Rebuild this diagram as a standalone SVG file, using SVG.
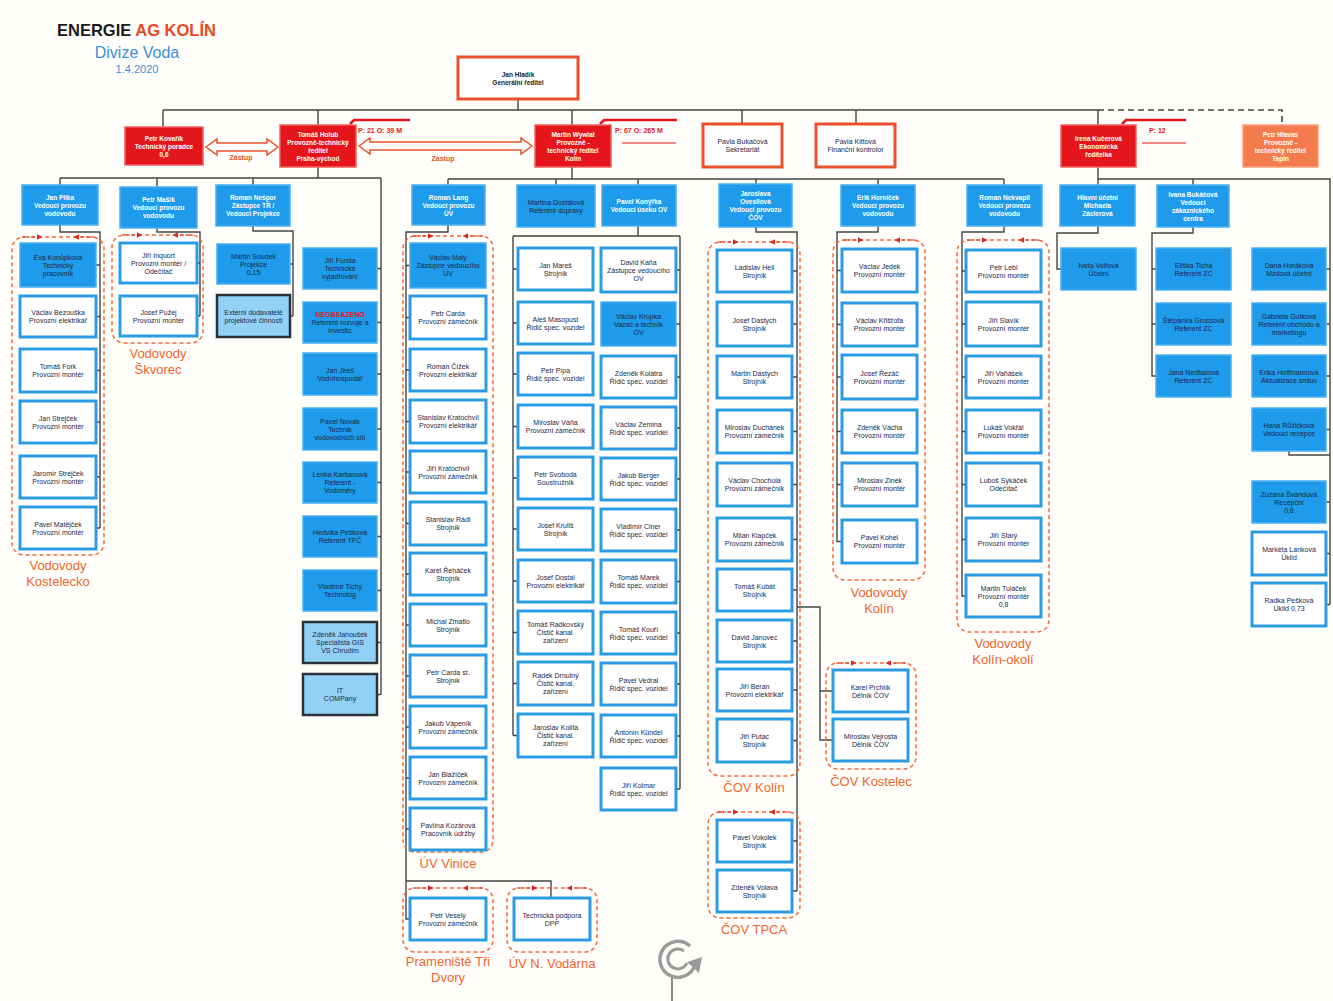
<svg xmlns="http://www.w3.org/2000/svg" width="1333" height="1001" viewBox="0 0 1333 1001">
<defs>
<style>
.n{font-family:"Liberation Sans",Arial,sans-serif;font-size:7px;text-anchor:middle;fill:#1d2847}
.m{font-weight:bold;fill:#fff;font-size:6.5px}
.k{font-weight:bold;fill:#222;font-size:6.5px}
.b{fill:#1e9bea;stroke:#4db0ef;stroke-width:1.5}
.w{fill:#fff;stroke:#2b9be3;stroke-width:3}
.l{fill:#92d1f5;stroke:#263238;stroke-width:2.5}
.r{fill:#e5161b;stroke:#f06060;stroke-width:1.5}
.o{fill:#f47b4b;stroke:#f9a07f;stroke-width:1.5}
.ow{fill:#fff;stroke:#e9512b;stroke-width:3}
.c{fill:none;stroke:#444;stroke-width:1.4}
.cd{fill:none;stroke:#444;stroke-width:1.6;stroke-dasharray:6 4}
.d{fill:none;stroke:#f26b3a;stroke-width:1.5;stroke-dasharray:4 3}
.ra{fill:none;stroke:#e02a1f;stroke-width:1.2;stroke-dasharray:3 2;marker-end:url(#ah)}
.lbl{font-family:"Liberation Sans",Arial,sans-serif;font-size:13px;fill:#f0642c;text-anchor:middle}
.ann{font-family:"Liberation Sans",Arial,sans-serif;font-size:7px;fill:#e5161b;font-weight:bold}
.za{font-family:"Liberation Sans",Arial,sans-serif;font-size:7px;fill:#e9512b;font-weight:bold;text-anchor:middle}
.ha{fill:#fff;stroke:#e9512b;stroke-width:1.5}
</style>
<marker id="ah" viewBox="0 0 10 10" refX="9" refY="5" markerWidth="5" markerHeight="5" orient="auto"><path d="M0,0L10,5L0,10z" fill="#e02a1f"/></marker>
</defs>
<rect width="1333" height="1001" fill="#fffefb"/>

<g id="title" font-family="Liberation Sans, Arial, sans-serif">
<text x="57" y="36" font-size="16.5" font-weight="bold" fill="#1a1a1a">ENERGIE <tspan fill="#e84a1c">AG KOLÍN</tspan></text>
<text x="137" y="58" font-size="16" fill="#3b8fd9" text-anchor="middle">Divize Voda</text>
<text x="137" y="73" font-size="11" fill="#3b8fd9" text-anchor="middle">1.4.2020</text>
</g>

<g id="connectors">
<path class="c" d="M518,99V110 M163,110H1098 M163,110V127 M318,110V125 M572,110V125 M742,110V124 M856,110V124 M1098,110V125"/>
<path class="cd" d="M1098,110H1282V125"/>
<path class="c" d="M318,167V178 M60,178H381 M60,178V185 M157,178V187 M253,178V185 M381,178V694.5 M377,268.5H381 M377,322.5H381 M377,374H381 M377,429H381 M377,482.5H381 M377,536.5H381 M377,590.5H381 M377,642.5H381 M377,694.5H381"/>
<path class="c" d="M60,225V232H100V528 M96,265H100 M96,316.5H100 M96,370.5H100 M96,422H100 M96,477H100 M96,528H100"/>
<path class="c" d="M157,228V232H200V316 M197,263H200 M197,316H200"/>
<path class="c" d="M253,226V231H293V316 M290,264H293 M290,316H293"/>
<path class="c" d="M572,167V179 M448,179H1004 M448,179V185 M556,179V185 M638,179V185 M756,179V184 M878,179V185 M1004,179V185"/>
<path class="c" d="M448,225V232H406V919H410 M406,265.5H410 M406,317.5H410 M406,370H410 M406,421.5H410 M406,472H410 M406,523.5H410 M406,574H410 M406,625H410 M406,676H410 M406,727H410 M406,778H410 M406,829H410 M406,881H551V898"/>
<path class="c" d="M638,226V236 M513,236H680 M513,236V735.5 M680,236V789 M513,269H518 M513,323H518 M513,374H518 M513,426.5H518 M513,478H518 M513,529H518 M513,581H518 M513,632.5H518 M513,683.5H518 M513,735.5H518 M676,270H680 M676,324H680 M676,377H680 M676,428H680 M676,479H680 M676,530H680 M676,581.5H680 M676,633H680 M676,684H680 M676,736H680 M676,789H680"/>
<path class="c" d="M756,227V232H797V891 M792,271H797 M792,324H797 M792,377H797 M792,431.5H797 M792,484.5H797 M792,539.5H797 M792,590H797 M792,641H797 M792,690H797 M792,740.5H797 M792,841H797 M792,891H797 M797,607H820V740H833 M820,691H833"/>
<path class="c" d="M878,226V232H837V541.5H842 M837,270.5H842 M837,324.5H842 M837,377H842 M837,431.5H842 M837,484.5H842"/>
<path class="c" d="M1004,226V232H962V596H966 M962,271H966 M962,324H966 M962,377H966 M962,431.5H966 M962,484.5H966 M962,539.5H966"/>
<path class="c" d="M1098,167V179 M1098,179H1330V604.5 M1098,179V185 M1193,179V185 M1098,226V233H1057V269H1061 M1193,227V233H1152V376H1156 M1152,269H1156 M1152,324H1156 M1326,269H1330 M1326,324H1330 M1326,376H1330 M1326,429.5H1330 M1326,502H1330 M1326,553.5H1330 M1326,604.5H1330 M1289,451V455H1330"/>
</g>

<g id="annotations">
<path d="M350,124L354,120H410" fill="none" stroke="#e5161b" stroke-width="2.5"/>
<text class="ann" x="358" y="133">P: 21  O: 39 M</text>
<path d="M600,124L604,120H677" fill="none" stroke="#e5161b" stroke-width="2.5"/>
<text class="ann" x="615" y="133">P: 67  O: 265 M</text>
<path d="M622,143H676" stroke="#e5161b" stroke-width="1.2"/>
<path d="M1122,124L1126,120H1186" fill="none" stroke="#e5161b" stroke-width="2.5"/>
<text class="ann" x="1149" y="133">P: 12</text>
<path d="M1142,143H1186" stroke="#e5161b" stroke-width="1.2"/>
<polygon class="ha" points="206,147 217,139 217,143 267,143 267,139 278,147 267,155 267,151 217,151 217,155"/>
<text class="za" x="241" y="160">Zástup</text>
<polygon class="ha" points="359,146 370,138 370,142 521,142 521,138 532,146 521,154 521,150 370,150 370,154"/>
<text class="za" x="443" y="161">Zástup</text>
</g>

<g id="groups">
<rect class="d" x="12" y="237" width="92" height="318" rx="12"/>
<path class="ra" d="M22,237H42"/><path class="ra" d="M94,237H74"/>
<text class="lbl" x="58" y="570">Vodovody</text><text class="lbl" x="58" y="586">Kostelecko</text>
<rect class="d" x="112" y="235" width="91" height="108" rx="12"/>
<path class="ra" d="M122,235H142"/><path class="ra" d="M193,235H173"/>
<text class="lbl" x="158" y="358">Vodovody</text><text class="lbl" x="158" y="374">Škvorec</text>
<rect class="d" x="403" y="236" width="90" height="616" rx="12"/>
<path class="ra" d="M413,236H433"/><path class="ra" d="M483,236H463"/>
<text class="lbl" x="448" y="868">ÚV Vinice</text>
<rect class="d" x="403" y="888" width="90" height="64" rx="12"/>
<path class="ra" d="M413,888H433"/><path class="ra" d="M483,888H463"/>
<text class="lbl" x="448" y="966">Prameniště Tři</text><text class="lbl" x="448" y="982">Dvory</text>
<rect class="d" x="507" y="888" width="90" height="64" rx="12"/>
<path class="ra" d="M517,888H537"/><path class="ra" d="M587,888H567"/>
<text class="lbl" x="552" y="968">ÚV N. Vodárna</text>
<rect class="d" x="708" y="242" width="92" height="534" rx="12"/>
<path class="ra" d="M718,242H738"/><path class="ra" d="M790,242H770"/>
<text class="lbl" x="754" y="792">ČOV Kolín</text>
<rect class="d" x="826" y="663" width="90" height="106" rx="12"/>
<path class="ra" d="M836,663H856"/><path class="ra" d="M906,663H886"/>
<text class="lbl" x="871" y="786">ČOV Kostelec</text>
<rect class="d" x="708" y="812" width="92" height="106" rx="12"/>
<path class="ra" d="M718,812H738"/><path class="ra" d="M790,812H770"/>
<text class="lbl" x="754" y="934">ČOV TPCA</text>
<rect class="d" x="833" y="240" width="92" height="340" rx="12"/>
<path class="ra" d="M843,240H863"/><path class="ra" d="M915,240H895"/>
<text class="lbl" x="879" y="597">Vodovody</text><text class="lbl" x="879" y="613">Kolín</text>
<rect class="d" x="957" y="240" width="92" height="392" rx="12"/>
<path class="ra" d="M967,240H987"/><path class="ra" d="M1039,240H1019"/>
<text class="lbl" x="1003" y="648">Vodovody</text><text class="lbl" x="1003" y="664">Kolín-okolí</text>
</g>

<g id="hladik"><rect class="ow" x="458" y="57" width="120" height="42"/><text class="n k" x="518" y="76.5"><tspan x="518">Jan Hladík</tspan><tspan x="518" dy="8">Generální ředitel</tspan></text></g>
<g id="kovarik"><rect class="r" x="125" y="127" width="78" height="38"/><text class="n m" x="164" y="140.5"><tspan x="164">Petr Kovařík</tspan><tspan x="164" dy="8">Technický poradce</tspan><tspan x="164" dy="8">0,6</tspan></text></g>
<g id="holub"><rect class="r" x="280" y="125" width="76" height="42"/><text class="n m" x="318" y="136.5"><tspan x="318">Tomáš Holub</tspan><tspan x="318" dy="8">Provozně-technický</tspan><tspan x="318" dy="8">ředitel</tspan><tspan x="318" dy="8">Praha-východ</tspan></text></g>
<g id="wywial"><rect class="r" x="535" y="125" width="76" height="42"/><text class="n m" x="573" y="136.5"><tspan x="573">Martin Wywiał</tspan><tspan x="573" dy="8">Provozně -</tspan><tspan x="573" dy="8">technický ředitel</tspan><tspan x="573" dy="8">Kolín</tspan></text></g>
<g id="bukacova"><rect class="ow" x="703" y="124" width="79" height="43"/><text class="n" x="742.5" y="144"><tspan x="742.5">Pavla Bukačová</tspan><tspan x="742.5" dy="8">Sekretariát</tspan></text></g>
<g id="kittova"><rect class="ow" x="816" y="124" width="79" height="43"/><text class="n" x="855.5" y="144"><tspan x="855.5">Pavla Kittová</tspan><tspan x="855.5" dy="8">Finanční kontrolor</tspan></text></g>
<g id="kucerova"><rect class="r" x="1061" y="125" width="75" height="42"/><text class="n m" x="1098.5" y="140.5"><tspan x="1098.5">Irena Kučerová</tspan><tspan x="1098.5" dy="8">Ekonomická</tspan><tspan x="1098.5" dy="8">ředitelka</tspan></text></g>
<g id="hlavas"><rect class="o" x="1243" y="125" width="75" height="42"/><text class="n m" x="1280.5" y="136.5"><tspan x="1280.5">Petr Hlavas</tspan><tspan x="1280.5" dy="8">Provozně -</tspan><tspan x="1280.5" dy="8">technický ředitel</tspan><tspan x="1280.5" dy="8">Tapin</tspan></text></g>

<g id="pilka"><rect class="b" x="22" y="185" width="76" height="40"/><text class="n m" x="60" y="199.5"><tspan x="60">Jan Pilka</tspan><tspan x="60" dy="8">Vedoucí provozu</tspan><tspan x="60" dy="8">vodovodu</tspan></text></g>
<g id="masik"><rect class="b" x="120" y="187" width="77" height="41"/><text class="n m" x="158.5" y="202"><tspan x="158.5">Petr Mašík</tspan><tspan x="158.5" dy="8">Vedoucí provozu</tspan><tspan x="158.5" dy="8">vodovodu</tspan></text></g>
<g id="nespor"><rect class="b" x="216" y="185" width="74" height="41"/><text class="n m" x="253" y="200"><tspan x="253">Roman Nešpor</tspan><tspan x="253" dy="8">Zástupce TŘ /</tspan><tspan x="253" dy="8">Vedoucí Projekce</tspan></text></g>
<g id="lang"><rect class="b" x="412" y="185" width="73" height="40"/><text class="n m" x="448.5" y="199.5"><tspan x="448.5">Roman Lang</tspan><tspan x="448.5" dy="8">Vedoucí provozu</tspan><tspan x="448.5" dy="8">ÚV</tspan></text></g>
<g id="dostalova"><rect class="b" x="517" y="185" width="78" height="42"/><text class="n" x="556" y="204.5"><tspan x="556">Martina Dostálová</tspan><tspan x="556" dy="8">Referent dopravy</tspan></text></g>
<g id="konyrka"><rect class="b" x="602" y="185" width="74" height="41"/><text class="n m" x="639" y="204"><tspan x="639">Pavel Konýřka</tspan><tspan x="639" dy="8">Vedoucí úseku OV</tspan></text></g>
<g id="ovesllova"><rect class="b" x="719" y="184" width="73" height="43"/><text class="n m" x="755.5" y="196"><tspan x="755.5">Jaroslava</tspan><tspan x="755.5" dy="8">Ovesllová</tspan><tspan x="755.5" dy="8">Vedoucí provozu</tspan><tspan x="755.5" dy="8">ČOV</tspan></text></g>
<g id="hornicek"><rect class="b" x="841" y="185" width="74" height="41"/><text class="n m" x="878" y="200"><tspan x="878">Erik Horníček</tspan><tspan x="878" dy="8">Vedoucí provozu</tspan><tspan x="878" dy="8">vodovodu</tspan></text></g>
<g id="nekvapil"><rect class="b" x="967" y="185" width="75" height="41"/><text class="n m" x="1004.5" y="200"><tspan x="1004.5">Roman Nekvapil</tspan><tspan x="1004.5" dy="8">Vedoucí provozu</tspan><tspan x="1004.5" dy="8">vodovodu</tspan></text></g>
<g id="zaclerova"><rect class="b" x="1060" y="185" width="75" height="41"/><text class="n m" x="1097.5" y="200"><tspan x="1097.5">Hlavní účetní</tspan><tspan x="1097.5" dy="8">Michaela</tspan><tspan x="1097.5" dy="8">Záclerová</tspan></text></g>
<g id="bukacova-zc"><rect class="b" x="1157" y="185" width="72" height="42"/><text class="n m" x="1193" y="196.5"><tspan x="1193">Ivana Bukáčová</tspan><tspan x="1193" dy="8">Vedoucí</tspan><tspan x="1193" dy="8">zákaznického</tspan><tspan x="1193" dy="8">centra</tspan></text></g>

<g id="konupkova"><rect class="b" x="20" y="243" width="76" height="44"/><text class="n" x="58" y="259.5"><tspan x="58">Eva Konůpková</tspan><tspan x="58" dy="8">Technický</tspan><tspan x="58" dy="8">pracovník</tspan></text></g>
<g id="bezouska"><rect class="w" x="20" y="296" width="76" height="41"/><text class="n" x="58" y="315"><tspan x="58">Václav Bezouška</tspan><tspan x="58" dy="8">Provozní elektrikář</tspan></text></g>
<g id="fork"><rect class="w" x="20" y="349" width="76" height="43"/><text class="n" x="58" y="369"><tspan x="58">Tomáš Fork</tspan><tspan x="58" dy="8">Provozní montér</tspan></text></g>
<g id="strejcek-j"><rect class="w" x="20" y="401" width="76" height="42"/><text class="n" x="58" y="420.5"><tspan x="58">Jan Strejček</tspan><tspan x="58" dy="8">Provozní montér</tspan></text></g>
<g id="strejcek-jar"><rect class="w" x="20" y="456" width="76" height="42"/><text class="n" x="58" y="475.5"><tspan x="58">Jaromír Strejček</tspan><tspan x="58" dy="8">Provozní montér</tspan></text></g>
<g id="matejcek"><rect class="w" x="20" y="507" width="76" height="42"/><text class="n" x="58" y="526.5"><tspan x="58">Pavel Matějček</tspan><tspan x="58" dy="8">Provozní montér</tspan></text></g>

<g id="inquort"><rect class="w" x="120" y="243" width="77" height="40"/><text class="n" x="158.5" y="257.5"><tspan x="158.5">Jiří Inquort</tspan><tspan x="158.5" dy="8">Provozní montér /</tspan><tspan x="158.5" dy="8">Odečítač</tspan></text></g>
<g id="puzej"><rect class="w" x="120" y="296" width="77" height="40"/><text class="n" x="158.5" y="314.5"><tspan x="158.5">Josef Pužej</tspan><tspan x="158.5" dy="8">Provozní montér</tspan></text></g>

<g id="soudek"><rect class="b" x="217" y="244" width="73" height="40"/><text class="n" x="253.5" y="258.5"><tspan x="253.5">Martin Soudek</tspan><tspan x="253.5" dy="8">Projekce</tspan><tspan x="253.5" dy="8">0,15</tspan></text></g>
<g id="externi"><rect class="l" x="217" y="295" width="73" height="42"/><text class="n" x="253.5" y="314.5"><tspan x="253.5">Externí dodavatelé</tspan><tspan x="253.5" dy="8">projektové činnosti</tspan></text></g>

<g id="funda"><rect class="b" x="303" y="248" width="74" height="41"/><text class="n" x="340" y="263"><tspan x="340">Jiří Funda</tspan><tspan x="340" dy="8">Technické</tspan><tspan x="340" dy="8">vyjadřování</tspan></text></g>
<g id="neobsazeno"><rect class="b" x="303" y="302" width="74" height="41"/><text class="n" x="340" y="317"><tspan x="340" fill="#e5161b" font-weight="bold">NEOBSAZENO</tspan><tspan x="340" dy="8">Referent rozvoje a</tspan><tspan x="340" dy="8">investic</tspan></text></g>
<g id="jires"><rect class="b" x="303" y="353" width="74" height="42"/><text class="n" x="340" y="372.5"><tspan x="340">Jan Jireš</tspan><tspan x="340" dy="8">Vodohospodář</tspan></text></g>
<g id="novak"><rect class="b" x="303" y="408" width="74" height="42"/><text class="n" x="340" y="423.5"><tspan x="340">Pavel Novák</tspan><tspan x="340" dy="8">Technik</tspan><tspan x="340" dy="8">vodovodních sítí</tspan></text></g>
<g id="karbanova"><rect class="b" x="303" y="462" width="74" height="41"/><text class="n" x="340" y="477"><tspan x="340">Lenka Karbanová</tspan><tspan x="340" dy="8">Referent -</tspan><tspan x="340" dy="8">Vodoměry</tspan></text></g>
<g id="peskova-h"><rect class="b" x="303" y="516" width="74" height="41"/><text class="n" x="340" y="535"><tspan x="340">Hedvika Pešková</tspan><tspan x="340" dy="8">Referent TPČ</tspan></text></g>
<g id="tichy"><rect class="b" x="303" y="570" width="74" height="41"/><text class="n" x="340" y="589"><tspan x="340">Vladimír Tichý</tspan><tspan x="340" dy="8">Technolog</tspan></text></g>
<g id="janousek"><rect class="l" x="303" y="622" width="74" height="41"/><text class="n" x="340" y="637"><tspan x="340">Zdeněk Janoušek</tspan><tspan x="340" dy="8">Specialista GIS</tspan><tspan x="340" dy="8">VS Chrudim</tspan></text></g>
<g id="it"><rect class="l" x="303" y="674" width="74" height="41"/><text class="n" x="340" y="693"><tspan x="340">IT</tspan><tspan x="340" dy="8">COMPany</tspan></text></g>

<g id="maly"><rect class="b" x="410" y="243" width="76" height="45"/><text class="n" x="448" y="260"><tspan x="448">Václav Malý</tspan><tspan x="448" dy="8">Zástupce vedoucího</tspan><tspan x="448" dy="8">ÚV</tspan></text></g>
<g id="carda"><rect class="w" x="410" y="296" width="76" height="43"/><text class="n" x="448" y="316"><tspan x="448">Petr Carda</tspan><tspan x="448" dy="8">Provozní zámečník</tspan></text></g>
<g id="cizek"><rect class="w" x="410" y="349" width="76" height="42"/><text class="n" x="448" y="368.5"><tspan x="448">Roman Čížek</tspan><tspan x="448" dy="8">Provozní elektrikář</tspan></text></g>
<g id="kratochvil-s"><rect class="w" x="410" y="400" width="76" height="43"/><text class="n" x="448" y="420"><tspan x="448">Stanislav Kratochvíl</tspan><tspan x="448" dy="8">Provozní elektrikář</tspan></text></g>
<g id="kratochvil-j"><rect class="w" x="410" y="451" width="76" height="42"/><text class="n" x="448" y="470.5"><tspan x="448">Jiří Kratochvíl</tspan><tspan x="448" dy="8">Provozní zámečník</tspan></text></g>
<g id="radl"><rect class="w" x="410" y="502" width="76" height="43"/><text class="n" x="448" y="522"><tspan x="448">Stanislav Rádl</tspan><tspan x="448" dy="8">Strojník</tspan></text></g>
<g id="rehacek"><rect class="w" x="410" y="553" width="76" height="42"/><text class="n" x="448" y="572.5"><tspan x="448">Karel Řeháček</tspan><tspan x="448" dy="8">Strojník</tspan></text></g>
<g id="zmatlo"><rect class="w" x="410" y="604" width="76" height="42"/><text class="n" x="448" y="623.5"><tspan x="448">Michal Zmatlo</tspan><tspan x="448" dy="8">Strojník</tspan></text></g>
<g id="carda-st"><rect class="w" x="410" y="655" width="76" height="42"/><text class="n" x="448" y="674.5"><tspan x="448">Petr Carda st.</tspan><tspan x="448" dy="8">Strojník</tspan></text></g>
<g id="vapenik"><rect class="w" x="410" y="706" width="76" height="42"/><text class="n" x="448" y="725.5"><tspan x="448">Jakub Vápeník</tspan><tspan x="448" dy="8">Provozní zámečník</tspan></text></g>
<g id="blazicek"><rect class="w" x="410" y="757" width="76" height="42"/><text class="n" x="448" y="776.5"><tspan x="448">Jan Blažíček</tspan><tspan x="448" dy="8">Provozní zámečník</tspan></text></g>
<g id="kozarova"><rect class="w" x="410" y="808" width="76" height="42"/><text class="n" x="448" y="827.5"><tspan x="448">Pavlína Kozárová</tspan><tspan x="448" dy="8">Pracovník údržby</tspan></text></g>
<g id="vesely"><rect class="w" x="410" y="898" width="76" height="42"/><text class="n" x="448" y="917.5"><tspan x="448">Petr Veselý</tspan><tspan x="448" dy="8">Provozní zámečník</tspan></text></g>
<g id="dpp"><rect class="w" x="514" y="898" width="76" height="42"/><text class="n" x="552" y="917.5"><tspan x="552">Technická podpora</tspan><tspan x="552" dy="8">DPP</tspan></text></g>

<g id="mares"><rect class="w" x="518" y="248" width="75" height="42"/><text class="n" x="555.5" y="267.5"><tspan x="555.5">Jan Mareš</tspan><tspan x="555.5" dy="8">Strojník</tspan></text></g>
<g id="masopust"><rect class="w" x="518" y="302" width="75" height="42"/><text class="n" x="555.5" y="321.5"><tspan x="555.5">Aleš Masopust</tspan><tspan x="555.5" dy="8">Řidič spec. vozidel</tspan></text></g>
<g id="pipa"><rect class="w" x="518" y="353" width="75" height="42"/><text class="n" x="555.5" y="372.5"><tspan x="555.5">Petr Pípa</tspan><tspan x="555.5" dy="8">Řidič spec. vozidel</tspan></text></g>
<g id="vana"><rect class="w" x="518" y="405" width="75" height="43"/><text class="n" x="555.5" y="425"><tspan x="555.5">Miroslav Váňa</tspan><tspan x="555.5" dy="8">Provozní zámečník</tspan></text></g>
<g id="svoboda"><rect class="w" x="518" y="457" width="75" height="42"/><text class="n" x="555.5" y="476.5"><tspan x="555.5">Petr Svoboda</tspan><tspan x="555.5" dy="8">Soustružník</tspan></text></g>
<g id="krulis"><rect class="w" x="518" y="508" width="75" height="42"/><text class="n" x="555.5" y="527.5"><tspan x="555.5">Josef Kruliš</tspan><tspan x="555.5" dy="8">Strojník</tspan></text></g>
<g id="dostal"><rect class="w" x="518" y="560" width="75" height="42"/><text class="n" x="555.5" y="579.5"><tspan x="555.5">Josef Dostal</tspan><tspan x="555.5" dy="8">Provozní elektrikář</tspan></text></g>
<g id="radkovsky"><rect class="w" x="518" y="611" width="75" height="43"/><text class="n" x="555.5" y="627"><tspan x="555.5">Tomáš Radkovský</tspan><tspan x="555.5" dy="8">Čistič kanal.</tspan><tspan x="555.5" dy="8">zařízení</tspan></text></g>
<g id="drnulny"><rect class="w" x="518" y="662" width="75" height="43"/><text class="n" x="555.5" y="678"><tspan x="555.5">Radek Drnulný</tspan><tspan x="555.5" dy="8">Čistič kanal.</tspan><tspan x="555.5" dy="8">zařízení</tspan></text></g>
<g id="kolita"><rect class="w" x="518" y="714" width="75" height="43"/><text class="n" x="555.5" y="730"><tspan x="555.5">Jaroslav Kolita</tspan><tspan x="555.5" dy="8">Čistič kanal.</tspan><tspan x="555.5" dy="8">zařízení</tspan></text></g>

<g id="kana"><rect class="w" x="601" y="248" width="75" height="44"/><text class="n" x="638.5" y="264.5"><tspan x="638.5">David Kaňa</tspan><tspan x="638.5" dy="8">Zástupce vedoucího</tspan><tspan x="638.5" dy="8">OV</tspan></text></g>
<g id="krupka"><rect class="b" x="601" y="302" width="75" height="44"/><text class="n" x="638.5" y="318.5"><tspan x="638.5">Václav Krupka</tspan><tspan x="638.5" dy="8">Vazač a technik</tspan><tspan x="638.5" dy="8">OV</tspan></text></g>
<g id="kolatra"><rect class="w" x="601" y="356" width="75" height="42"/><text class="n" x="638.5" y="375.5"><tspan x="638.5">Zdeněk Kolátra</tspan><tspan x="638.5" dy="8">Řidič spec. vozidel</tspan></text></g>
<g id="zemina"><rect class="w" x="601" y="407" width="75" height="42"/><text class="n" x="638.5" y="426.5"><tspan x="638.5">Václav Zemina</tspan><tspan x="638.5" dy="8">Řidič spec. vozidel</tspan></text></g>
<g id="berger"><rect class="w" x="601" y="458" width="75" height="42"/><text class="n" x="638.5" y="477.5"><tspan x="638.5">Jakub Berger</tspan><tspan x="638.5" dy="8">Řidič spec. vozidel</tspan></text></g>
<g id="ciner"><rect class="w" x="601" y="509" width="75" height="42"/><text class="n" x="638.5" y="528.5"><tspan x="638.5">Vladimír Ciner</tspan><tspan x="638.5" dy="8">Řidič spec. vozidel</tspan></text></g>
<g id="marek"><rect class="w" x="601" y="560" width="75" height="43"/><text class="n" x="638.5" y="580"><tspan x="638.5">Tomáš Marek</tspan><tspan x="638.5" dy="8">Řidič spec. vozidel</tspan></text></g>
<g id="kouri"><rect class="w" x="601" y="612" width="75" height="42"/><text class="n" x="638.5" y="631.5"><tspan x="638.5">Tomáš Kouří</tspan><tspan x="638.5" dy="8">Řidič spec. vozidel</tspan></text></g>
<g id="vedral"><rect class="w" x="601" y="663" width="75" height="42"/><text class="n" x="638.5" y="682.5"><tspan x="638.5">Pavel Vedral</tspan><tspan x="638.5" dy="8">Řidič spec. vozidel</tspan></text></g>
<g id="kundel"><rect class="w" x="601" y="715" width="75" height="42"/><text class="n" x="638.5" y="734.5"><tspan x="638.5">Antonín Kündel</tspan><tspan x="638.5" dy="8">Řidič spec. vozidel</tspan></text></g>
<g id="kolmar"><rect class="w" x="601" y="768" width="75" height="42"/><text class="n" x="638.5" y="787.5"><tspan x="638.5">Jiří Kolmar</tspan><tspan x="638.5" dy="8">Řidič spec. vozidel</tspan></text></g>

<g id="hell"><rect class="w" x="717" y="250" width="75" height="42"/><text class="n" x="754.5" y="269.5"><tspan x="754.5">Ladislav Hell</tspan><tspan x="754.5" dy="8">Strojník</tspan></text></g>
<g id="dastych-j"><rect class="w" x="717" y="302" width="75" height="44"/><text class="n" x="754.5" y="322.5"><tspan x="754.5">Josef Dastych</tspan><tspan x="754.5" dy="8">Strojník</tspan></text></g>
<g id="dastych-m"><rect class="w" x="717" y="356" width="75" height="42"/><text class="n" x="754.5" y="375.5"><tspan x="754.5">Martin Dastych</tspan><tspan x="754.5" dy="8">Strojník</tspan></text></g>
<g id="duchanek"><rect class="w" x="717" y="410" width="75" height="43"/><text class="n" x="754.5" y="430"><tspan x="754.5">Miroslav Duchánek</tspan><tspan x="754.5" dy="8">Provozní zámečník</tspan></text></g>
<g id="chochola"><rect class="w" x="717" y="463" width="75" height="43"/><text class="n" x="754.5" y="483"><tspan x="754.5">Václav Chochola</tspan><tspan x="754.5" dy="8">Provozní zámečník</tspan></text></g>
<g id="klapcek"><rect class="w" x="717" y="518" width="75" height="43"/><text class="n" x="754.5" y="538"><tspan x="754.5">Milan Klapček</tspan><tspan x="754.5" dy="8">Provozní zámečník</tspan></text></g>
<g id="kubat"><rect class="w" x="717" y="569" width="75" height="42"/><text class="n" x="754.5" y="588.5"><tspan x="754.5">Tomáš Kubát</tspan><tspan x="754.5" dy="8">Strojník</tspan></text></g>
<g id="janovec"><rect class="w" x="717" y="620" width="75" height="42"/><text class="n" x="754.5" y="639.5"><tspan x="754.5">David Janovec</tspan><tspan x="754.5" dy="8">Strojník</tspan></text></g>
<g id="beran"><rect class="w" x="717" y="669" width="75" height="42"/><text class="n" x="754.5" y="688.5"><tspan x="754.5">Jiří Beran</tspan><tspan x="754.5" dy="8">Provozní elektrikář</tspan></text></g>
<g id="putac"><rect class="w" x="717" y="719" width="75" height="43"/><text class="n" x="754.5" y="739"><tspan x="754.5">Jiří Putac</tspan><tspan x="754.5" dy="8">Strojník</tspan></text></g>
<g id="prchlik"><rect class="w" x="833" y="670" width="75" height="42"/><text class="n" x="870.5" y="689.5"><tspan x="870.5">Karel Prchlík</tspan><tspan x="870.5" dy="8">Dělník ČOV</tspan></text></g>
<g id="vejrosta"><rect class="w" x="833" y="719" width="75" height="42"/><text class="n" x="870.5" y="738.5"><tspan x="870.5">Miroslav Vejrosta</tspan><tspan x="870.5" dy="8">Dělník ČOV</tspan></text></g>
<g id="vokolek"><rect class="w" x="717" y="820" width="75" height="42"/><text class="n" x="754.5" y="839.5"><tspan x="754.5">Pavel Vokolek</tspan><tspan x="754.5" dy="8">Strojník</tspan></text></g>
<g id="volava"><rect class="w" x="717" y="870" width="75" height="42"/><text class="n" x="754.5" y="889.5"><tspan x="754.5">Zdeněk Volava</tspan><tspan x="754.5" dy="8">Strojník</tspan></text></g>

<g id="jedek"><rect class="w" x="842" y="249" width="75" height="43"/><text class="n" x="879.5" y="269"><tspan x="879.5">Václav Jedek</tspan><tspan x="879.5" dy="8">Provozní montér</tspan></text></g>
<g id="kristofa"><rect class="w" x="842" y="303" width="75" height="43"/><text class="n" x="879.5" y="323"><tspan x="879.5">Václav Křišťofa</tspan><tspan x="879.5" dy="8">Provozní montér</tspan></text></g>
<g id="rezac"><rect class="w" x="842" y="355" width="75" height="44"/><text class="n" x="879.5" y="375.5"><tspan x="879.5">Josef Řezáč</tspan><tspan x="879.5" dy="8">Provozní montér</tspan></text></g>
<g id="vacha"><rect class="w" x="842" y="410" width="75" height="43"/><text class="n" x="879.5" y="430"><tspan x="879.5">Zdeněk Vácha</tspan><tspan x="879.5" dy="8">Provozní montér</tspan></text></g>
<g id="zinek"><rect class="w" x="842" y="463" width="75" height="43"/><text class="n" x="879.5" y="483"><tspan x="879.5">Miroslav Zinek</tspan><tspan x="879.5" dy="8">Provozní montér</tspan></text></g>
<g id="kohel"><rect class="w" x="842" y="520" width="75" height="43"/><text class="n" x="879.5" y="540"><tspan x="879.5">Pavel Kohel</tspan><tspan x="879.5" dy="8">Provozní montér</tspan></text></g>

<g id="lebl"><rect class="w" x="966" y="250" width="75" height="42"/><text class="n" x="1003.5" y="269.5"><tspan x="1003.5">Petr Lebl</tspan><tspan x="1003.5" dy="8">Provozní montér</tspan></text></g>
<g id="slavik"><rect class="w" x="966" y="302" width="75" height="44"/><text class="n" x="1003.5" y="322.5"><tspan x="1003.5">Jiří Slavík</tspan><tspan x="1003.5" dy="8">Provozní montér</tspan></text></g>
<g id="vanasek"><rect class="w" x="966" y="356" width="75" height="42"/><text class="n" x="1003.5" y="375.5"><tspan x="1003.5">Jiří Vaňásek</tspan><tspan x="1003.5" dy="8">Provozní montér</tspan></text></g>
<g id="vokral"><rect class="w" x="966" y="410" width="75" height="43"/><text class="n" x="1003.5" y="430"><tspan x="1003.5">Lukáš Vokřál</tspan><tspan x="1003.5" dy="8">Provozní montér</tspan></text></g>
<g id="sykacek"><rect class="w" x="966" y="463" width="75" height="43"/><text class="n" x="1003.5" y="483"><tspan x="1003.5">Luboš Sykáček</tspan><tspan x="1003.5" dy="8">Odečítač</tspan></text></g>
<g id="stary"><rect class="w" x="966" y="518" width="75" height="43"/><text class="n" x="1003.5" y="538"><tspan x="1003.5">Jiří Starý</tspan><tspan x="1003.5" dy="8">Provozní montér</tspan></text></g>
<g id="tulacek"><rect class="w" x="966" y="575" width="75" height="42"/><text class="n" x="1003.5" y="590.5"><tspan x="1003.5">Martin Tuláček</tspan><tspan x="1003.5" dy="8">Provozní montér</tspan><tspan x="1003.5" dy="8">0,8</tspan></text></g>

<g id="volfova"><rect class="b" x="1061" y="248" width="75" height="42"/><text class="n" x="1098.5" y="267.5"><tspan x="1098.5">Iveta Volfová</tspan><tspan x="1098.5" dy="8">Účetní</tspan></text></g>
<g id="ticha"><rect class="b" x="1156" y="248" width="75" height="42"/><text class="n" x="1193.5" y="267.5"><tspan x="1193.5">Eliška Tichá</tspan><tspan x="1193.5" dy="8">Referent ZC</tspan></text></g>
<g id="grossova"><rect class="b" x="1156" y="303" width="75" height="42"/><text class="n" x="1193.5" y="322.5"><tspan x="1193.5">Štěpánka Grossová</tspan><tspan x="1193.5" dy="8">Referent ZC</tspan></text></g>
<g id="nedbalova"><rect class="b" x="1156" y="355" width="75" height="42"/><text class="n" x="1193.5" y="374.5"><tspan x="1193.5">Jana Nedbalová</tspan><tspan x="1193.5" dy="8">Referent ZC</tspan></text></g>

<g id="horakova"><rect class="b" x="1252" y="248" width="74" height="42"/><text class="n" x="1289" y="267.5"><tspan x="1289">Dana Horáková</tspan><tspan x="1289" dy="8">Mzdová účetní</tspan></text></g>
<g id="gutkova"><rect class="b" x="1252" y="303" width="74" height="42"/><text class="n" x="1289" y="318.5"><tspan x="1289">Gabriela Gutková</tspan><tspan x="1289" dy="8">Referent obchodu a</tspan><tspan x="1289" dy="8">marketingu</tspan></text></g>
<g id="hoffmannova"><rect class="b" x="1252" y="355" width="74" height="42"/><text class="n" x="1289" y="374.5"><tspan x="1289">Erika Hoffmannová</tspan><tspan x="1289" dy="8">Aktualizace smluv</tspan></text></g>
<g id="ruzickova"><rect class="b" x="1252" y="408" width="74" height="43"/><text class="n" x="1289" y="428"><tspan x="1289">Hana Růžičková</tspan><tspan x="1289" dy="8">Vedoucí recepce</tspan></text></g>
<g id="svandova"><rect class="b" x="1252" y="481" width="74" height="42"/><text class="n" x="1289" y="496.5"><tspan x="1289">Zuzana Švandová</tspan><tspan x="1289" dy="8">Recepční</tspan><tspan x="1289" dy="8">0,6</tspan></text></g>
<g id="lankova"><rect class="w" x="1252" y="532" width="74" height="43"/><text class="n" x="1289" y="552"><tspan x="1289">Markéta Lanková</tspan><tspan x="1289" dy="8">Úklid</tspan></text></g>
<g id="peskova-r"><rect class="w" x="1252" y="583" width="74" height="43"/><text class="n" x="1289" y="603"><tspan x="1289">Radka Pešková</tspan><tspan x="1289" dy="8">Úklid 0,73</tspan></text></g>

<g id="icon" fill="none" stroke="#9a9a9a">
<path d="M690,946 A18,18 0 1,0 695,965" stroke-width="3.5"/>
<path d="M684,951 A10,10 0 1,0 687,963" stroke-width="3"/>
<polygon points="687,962 702,957 699,973" fill="#9a9a9a" stroke="none"/>
<path d="M672,978V1001" stroke="#555" stroke-width="1.4"/>
</g>
</svg>
